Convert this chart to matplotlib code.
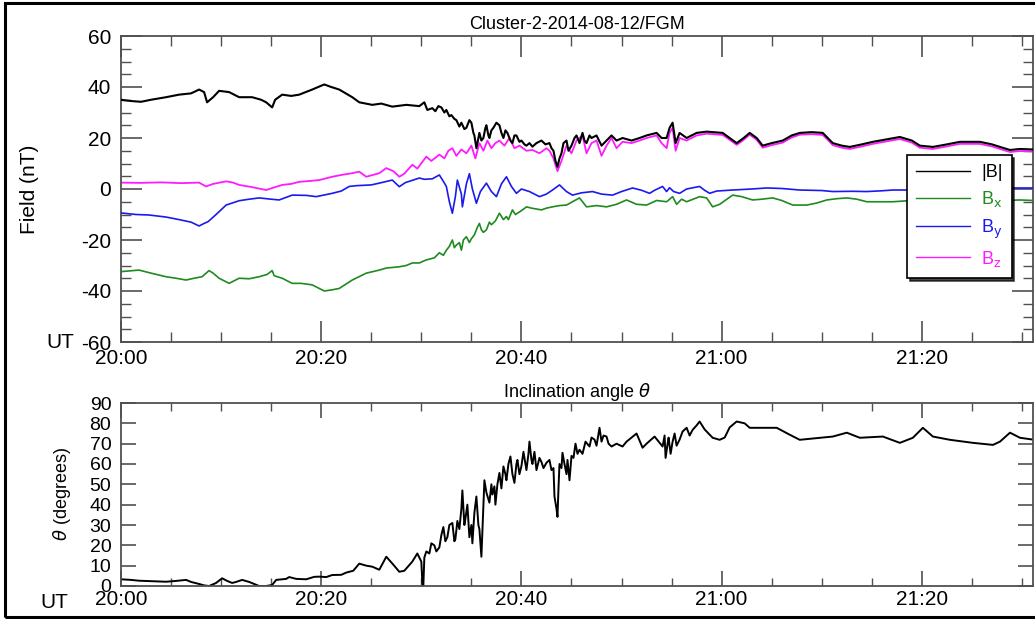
import matplotlib
matplotlib.use('Agg')
import matplotlib.pyplot as plt
from matplotlib.ticker import MultipleLocator, FixedLocator
from matplotlib.patches import Rectangle

plt.rcParams['font.family'] = ['Liberation Sans', 'DejaVu Sans']
plt.rcParams['axes.unicode_minus'] = False

# time axis: minutes after 20:00 UT
tick_minutes = [0, 20, 40, 60, 80]
tick_labels = ['20:00', '20:20', '20:40', '21:00', '21:20']

# |B| (nT)
t_btot = [0, 1, 2, 3, 4.5, 5.8, 7, 7.8, 8.3, 8.6, 9.2, 9.8, 10.8, 11.8, 13.1, 14, 14.5, 15.1, 15.4,
          16.1, 17, 17.8, 19.1, 20.3, 21, 21.8, 23.1, 23.8, 25.1, 26, 27.1, 28.5, 29.8, 30.3, 30.6,
          31.1, 31.4, 31.7, 32, 32.3, 32.5, 32.8, 33, 33.3, 33.5, 33.8, 34, 34.3, 34.5, 34.8, 35,
          35.2, 35.3, 35.5, 35.7, 35.8, 36, 36.2, 36.4, 36.5, 36.7, 36.8, 37, 37.2, 37.5, 37.8,
          38, 38.2, 38.4, 38.6, 38.9, 39.1, 39.3, 39.5, 39.8, 40, 40.3, 40.5, 40.8, 41.1, 41.5,
          42, 42.4, 42.8, 43, 43.2, 43.4, 43.6, 43.8, 44, 44.2, 44.5, 44.7, 45, 45.3, 45.5, 45.8,
          46.1, 46.3, 46.5, 46.8, 47, 47.5, 48, 48.5, 49, 49.5, 50.1, 51, 51.8, 52.5, 53.5, 54,
          54.5, 54.8, 55.1, 55.4, 55.8, 56.5, 57.5, 58.5, 60.1, 60.8, 61.5, 62.2, 62.8, 63.5,
          64.1, 65, 66.1, 67, 67.8, 69, 70.1, 70.6, 71.1, 72, 72.8, 74, 75.1, 76.5, 77.8, 79,
          79.8, 81.1, 82.5, 83.8, 85.8, 87, 87.8, 88.8, 89.8, 91.1]
b_tot = [35, 34.5, 34.2, 35, 36, 37, 37.5, 39, 38, 34, 36, 38.5, 38, 36, 36, 35, 34, 32, 35,
         37, 36.5, 37, 39, 41, 40, 39, 36, 34, 33, 33.5, 32.3, 33, 32.5, 34, 31,
         31.7, 30.5, 32.5, 32, 30, 31, 28.5, 29, 27.5, 27, 24.5, 26, 23.5, 24, 27, 26,
         22, 21, 16, 20, 22, 19, 20, 24, 25, 21, 20, 23, 24, 26, 25,
         22, 20, 23, 22, 19, 18, 21, 21, 18.5, 19, 17.5, 17, 18, 16.6, 18,
         19, 17.5, 18, 16, 15, 11, 8.7, 12, 14, 18, 19, 15, 17, 20, 21, 18,
         22, 19, 18, 21, 20, 21, 17, 19, 21, 19, 20, 19, 20, 21, 22, 20,
         20, 24, 26, 18, 22, 20, 22, 22.5, 22, 20, 18, 20, 22, 20,
         17, 18, 19, 21, 22, 22.3, 22, 20, 18, 17, 16.5, 17.5, 18.5, 19.5, 20.4, 19,
         17, 16.5, 17.5, 18.5, 18.5, 17.5, 16.5, 15.3, 15.7, 15.5]

# Bx (nT)
t_bx = [0, 1.8, 3, 4.5, 5.5, 6.5, 7.3, 8.1, 8.8, 9.2, 9.8, 10.8, 11.8, 12.8, 13.8, 14.6, 15.1,
        15.3, 16.1, 17.1, 18, 19.1, 20.3, 21, 21.8, 23.1, 24.5, 25.8, 26.5, 27.8, 28.5, 29.1,
        29.8, 30.5, 31.3, 31.8, 32.2, 32.5, 32.8, 33.1, 33.3, 33.5, 33.8, 34, 34.2, 34.5, 34.8,
        35, 35.3, 35.6, 35.8, 36, 36.2, 36.5, 36.8, 37, 37.4, 37.8, 38.2, 38.5, 38.7, 39.1,
        39.4, 39.6, 40, 40.5, 41, 42, 42.5, 43.1, 43.8, 44.5, 45.1, 45.8,
        46.5, 47.5, 48.5, 49.5, 50.5, 51.5, 52.5, 53.5, 54.5, 55.1, 55.5, 56, 56.5, 57.8, 58.5,
        59.1, 59.8, 61.1, 62, 63.1, 64, 65.1, 66, 67.1, 68.5, 69.5, 70.5, 71.5, 72.5, 73.5,
        74.5, 76, 77.1, 79, 85, 88, 89.8, 91.1]
bx = [-32.4, -31.8, -33, -34.4, -35, -35.7, -35, -34.4, -32, -33, -35, -37, -35, -35.2, -34.4,
      -33.5, -32, -34, -35, -37, -37, -37.6, -40, -39.6, -39, -35.7, -33, -31.8, -31, -30.5,
      -30, -29, -29, -27.8, -27, -25, -26, -24, -22.5, -20, -23, -22, -21, -24, -20, -18.7,
      -21, -19.5, -18, -15, -13.5, -16, -17, -16, -13, -14, -12.5, -9.5, -12, -10.8, -12,
      -8.2, -10, -9.5, -8.5, -7, -7.5, -8.2, -7.5, -7, -6.5, -6.3, -5, -3.5, -7, -6.5,
      -7, -6, -4.3, -6, -6.3, -4.5, -5, -3, -6, -4, -5, -3, -3.5, -7, -6,
      -2.4, -3, -4.3, -4, -3.5, -4.5, -6.3, -6.3, -5.5, -4.3, -3.8, -3.5, -4, -5, -5, -5,
      -4.5, -4.5, -4.5, -4.3, -4.5]

# By (nT)
t_by = [0, 1.5, 2.8, 4.5, 5.8, 7, 7.8, 8.3, 8.7, 9.5, 10.5, 11.8, 12.8, 13.8, 15, 15.8, 17.1,
        18.5, 19.5, 21.1, 22, 22.8, 23.5, 25, 25.8, 27.1, 27.8, 28.4, 29.8, 30.3, 31.1, 31.8,
        32.2, 32.5, 32.8, 33.1, 33.4, 33.6, 34, 34.1, 34.5, 34.8, 35.1, 35.5, 35.9, 36.5, 37,
        37.5, 38, 38.5, 39, 39.5, 40, 40.8, 41.8, 42.5, 43.1, 43.8, 44.5, 45.1, 46, 47.1, 48,
        49.1, 50, 51.1, 52, 52.8, 53.3, 54.1, 54.5, 54.8, 55.2, 55.8, 56.5, 57.8, 58.3, 58.8,
        59.5, 61.1, 63, 64.5, 66, 67.8, 70, 71.1, 73, 74.5, 76, 77.1, 78.5, 80, 85, 88, 91.1]
by = [-9.4, -10, -10.2, -11, -12, -13, -14.5, -13.5, -12.8, -10, -6.3, -4.6, -4, -3.5, -4,
      -4.3, -2.4, -2.5, -3, -1.7, -0.8, 1, 1.3, 1.6, 2.3, 3.5, 0.9, 2.5, 4.3, 3.8, 4, 5.5,
      3, 1, -5, -9.5, -3, 3.5, -2, -7, 2, 6, 0, -5.6, -1, 2.3, -1, -3, 2, 4.8, 1, -1.7, 0,
      -1, -3, -2, -0.4, 1.6, -1, -2.4, -1.5, -1, -2, -2.4, -1, 0.4, -0.5, -1.7, -0.5, 1, -1,
      0.5, -1, -1.7, 0, 1, -0.5, -1.7, -0.8, -0.4, 0, 0.4, 0.2, -0.4, -0.6, -1, -0.9, -1,
      -0.7, -0.4, -0.4, -0.2, 0.2, 0.4, 0.4]

# Bz (nT)
t_bz = [0, 2, 4, 6, 7.8, 8.5, 9.2, 10.5, 11.2, 11.8, 13, 14.5, 15.2, 16.1, 17, 17.8, 19, 19.8,
        21.1, 22, 23.1, 23.8, 24.5, 25.8, 26.5, 27.2, 27.8, 28.3, 29.1, 29.6, 30.5, 31, 31.8,
        32.3, 32.7, 33.1, 33.5, 34, 34.5, 35, 35.4, 35.8, 36.2, 36.6, 37, 37.4, 37.8, 38.3,
        38.8, 39.3, 39.8, 40.5, 41.1, 41.8, 42.5, 42.8, 43.2, 43.6, 44, 44.5, 45, 45.5, 46.1,
        46.5, 47, 47.5, 48, 48.5, 49, 49.5, 50.1, 51, 51.8, 52.5, 53.5, 54, 54.5, 54.8, 55.1,
        55.4, 55.8, 56.5, 57.5, 58.5, 60.1, 60.8, 61.5, 62.2, 62.8, 63.5, 64.1, 65, 66.1, 67,
        67.8, 69, 70.1, 70.6, 71.1, 72, 72.8, 74, 75.1, 76.5, 77.8, 79, 79.8, 81.1, 82.5,
        83.8, 85.8, 87, 87.8, 88.8, 89.8, 91.1]
bz = [2.5, 2.4, 2.6, 2.3, 2.5, 1, 2, 3, 2.5, 1.6, 0.8, -0.4, 0.5, 1.6, 2, 2.8, 3.2, 3.5,
      4.8, 5.5, 6.2, 6.8, 4.8, 6.2, 8.2, 7, 4.8, 6, 9.5, 8, 12.7, 11, 13.5,
      12, 15, 16, 13, 15.5, 14, 17, 12, 18, 15, 19, 16, 18, 19, 17,
      20, 16, 17, 15, 15.3, 14, 16, 15, 12, 7, 11, 17, 14, 19, 21,
      14, 18, 19, 13, 17, 20, 16, 18.5, 18, 19, 20, 21, 18, 16, 22, 24,
      15, 20, 19, 21, 21.7, 21.2, 19.3, 17.3, 19.3, 21.3, 19.3, 16.2, 17.2, 18.2, 20.2,
      21.3, 21.5, 21.2, 19.3, 17.2, 16.2, 15.7, 16.7, 17.7, 18.7, 19.6, 18.2, 16.2, 15.7, 16.7,
      17.7, 17.7, 16.7, 15.7, 14.5, 14.9, 14.7]

# inclination angle theta (degrees)
t_theta = [0, 1, 1.8, 3, 4.5, 5.5, 6.5, 7, 7.8, 8.3, 8.8, 9.5, 10.1, 10.6, 11.1, 11.5, 12.1,
           12.8, 13.8, 14.5, 15.1, 15.5, 16.5, 16.8, 17.5, 18.5, 19.3, 19.8, 20.5, 21.1, 22,
           22.5, 23.2, 23.8, 24.5, 25.1, 25.8, 26.5, 27.2, 27.8, 28.3, 29.1, 29.6, 30, 30.1,
           30.2, 30.3, 30.5, 30.8, 31, 31.3, 31.5, 31.8, 32, 32.2, 32.4, 32.6, 32.8, 33.1, 33.3,
           33.4, 33.6, 33.8, 34, 34.1, 34.3, 34.4, 34.6, 34.8, 35, 35.1, 35.3, 35.5, 35.7, 35.8,
           36, 36.2, 36.3, 36.5, 36.8, 37, 37.1, 37.3, 37.4, 37.6, 37.8, 38, 38.2, 38.4, 38.5,
           38.7, 38.9, 39.1, 39.3, 39.5, 39.6, 39.8, 40, 40.2, 40.5, 40.7, 40.8, 41, 41.1, 41.3,
           41.5, 41.8, 42, 42.2, 42.5, 42.8, 43, 43.2, 43.3, 43.5, 43.6, 43.7, 43.8, 44, 44.1,
           44.3, 44.5, 44.6, 44.8, 45, 45.2, 45.4, 45.6, 45.8, 46.1, 46.4, 46.8, 47, 47.3, 47.5,
           47.8, 48, 48.2, 48.5, 48.7, 49, 49.5, 50.1, 50.5, 51.5, 52.1, 52.5, 53.3, 54.1, 54.3,
           54.4, 54.6, 54.7, 54.9, 55.1, 55.3, 55.5, 55.8, 56.1, 56.5, 56.8, 57.1, 57.5, 57.8,
           58.3, 59.1, 59.8, 60.3, 60.8, 61.5, 62.3, 62.8, 64.5, 65.5, 66.8, 67.8, 69, 69.8,
           71.1, 72.5, 73.8, 76.1, 77.8, 79.1, 80.1, 81.1, 82.8, 85.1, 87.1, 87.8, 88.8, 89.8,
           91.1]
theta = [3.3, 3, 2.6, 2.4, 2.1, 2.5, 3, 2, 1, 0.3, 0, 1.5, 3.8, 2.5, 1.5, 2, 3,
         2, 0, 0, 0.5, 3, 3.5, 4.4, 3.5, 3.3, 4.5, 4.6, 4.4, 5.4, 5.5,
         6.6, 7.5, 11, 10, 9.5, 8, 14.4, 10.5, 7, 7.5, 12, 16, 12, 1.5,
         0, 14, 17, 16, 21, 20, 17, 19, 25, 29, 22, 24, 30, 31, 22,
         23, 32, 28, 38, 47, 30, 33, 40, 24, 30, 21, 36, 44, 30, 28,
         14.4, 40, 52, 46, 41, 50, 45, 49, 40, 50, 55.6, 48, 58.8, 55, 52,
         60, 63.7, 55, 50.7, 60, 62, 55, 59, 66, 57, 65, 71, 62, 60, 66,
         57, 63, 61, 58, 60.6, 62, 57, 58, 44, 38, 34, 48, 60, 58, 65.5,
         60, 55, 62, 52, 64, 63, 70, 65, 67, 65, 71, 68.6, 73, 72, 69,
         77.8, 71, 74, 73.5, 70, 68.6, 70, 68.6, 71, 75, 68, 70, 73.5, 68.6, 74,
         63, 70, 73, 65, 71, 75, 69, 72, 76, 77.8, 74, 76.8, 79, 80.9,
         77, 72.9, 71.9, 73, 78, 80.9, 80, 77.8, 77.8, 77.8, 74.4, 71.9, 72.5, 72.9,
         73.5, 75.4, 72.9, 73.5, 70.4, 72.9, 77.8, 73.5, 71.9, 70.4, 69.4, 71, 75.4, 72.9,
         72]

W, H = 1035, 619
fig = plt.figure(figsize=(W / 100, H / 100), dpi=100)
ax1 = fig.add_axes([121 / W, 1 - 342 / H, 912 / W, 306 / H])
ax2 = fig.add_axes([121 / W, 1 - 586 / H, 912 / W, 183 / H])

axis_grey = '#505050'


def style_axes(ax, major_len, minor_len, size):
    for s in ax.spines.values():
        s.set_color(axis_grey)
        s.set_linewidth(1.3)
    ax.tick_params(which='both', direction='in', top=True, right=True,
                   color=axis_grey, labelcolor='black', labelsize=size)
    ax.tick_params(which='major', length=major_len, width=1.2)
    ax.tick_params(which='minor', length=minor_len, width=1.0)
    ax.xaxis.set_major_locator(FixedLocator(tick_minutes))
    ax.set_xticklabels(tick_labels)
    ax.xaxis.set_minor_locator(MultipleLocator(5))
    ax.set_xlim(0, 91.1)


# top panel: field components
ax1.plot(t_bz, bz, color='#ff1aff', lw=1.3, label='B$_\\mathrm{z}$', zorder=2)
ax1.plot(t_bx, bx, color='#1f8a1f', lw=1.2, label='B$_\\mathrm{x}$', zorder=3)
ax1.plot(t_by, by, color='#1a1aee', lw=1.2, label='B$_\\mathrm{y}$', zorder=4)
ax1.plot(t_btot, b_tot, color='black', lw=1.5, label='|B|', zorder=5)
ax1.set_ylim(-60, 60)
ax1.yaxis.set_major_locator(MultipleLocator(20))
ax1.yaxis.set_minor_locator(MultipleLocator(5))
style_axes(ax1, 15, 7.5, 15)
ax1.tick_params(axis='x', pad=5)
ax1.tick_params(axis='y', pad=7)
ax1.set_ylabel('Field (nT)', fontsize=15, labelpad=30)
ax1.set_title('Cluster-2-2014-08-12/FGM', fontsize=13, pad=5)

handles, labels = ax1.get_legend_handles_labels()
order = [3, 1, 2, 0]
leg = ax1.legend([handles[i] for i in order], [labels[i] for i in order],
                 loc='upper left', bbox_to_anchor=(0.852, 0.64), fontsize=13,
                 labelcolor='linecolor', frameon=True, fancybox=False,
                 edgecolor='black', framealpha=1, shadow={'color': 'black', 'alpha': 0.7},
                 handlelength=3.0, labelspacing=0.45, borderpad=0.5, handletextpad=0.6)
leg.get_frame().set_linewidth(1.2)
leg.set_zorder(10)
for line in leg.get_lines():
    line.set_linewidth(1.0)

# bottom panel: inclination angle
ax2.plot(t_theta, theta, color='black', lw=1.4)
ax2.set_ylim(0, 90)
ax2.yaxis.set_major_locator(MultipleLocator(10))
style_axes(ax2, 11, 6, 15)
ax2.tick_params(axis='y', labelsize=14, pad=7)
ax2.tick_params(axis='x', pad=3)
ax2.set_ylabel('$\\theta$ (degrees)', fontsize=13, labelpad=12)
ax2.set_title('Inclination angle $\\theta$', fontsize=13, pad=4)

fig.text(46 / W, 1 - 342 / H, 'UT', fontsize=15, ha='left', va='center')
fig.text(40 / W, 1 - 603 / H, 'UT', fontsize=15, ha='left', va='center')

fig.add_artist(Rectangle((5 / W, 2 / H), 1.2, 614 / H, transform=fig.transFigure,
                         fill=False, ec='black', lw=2.2))

fig.savefig('out.png', dpi=100)
